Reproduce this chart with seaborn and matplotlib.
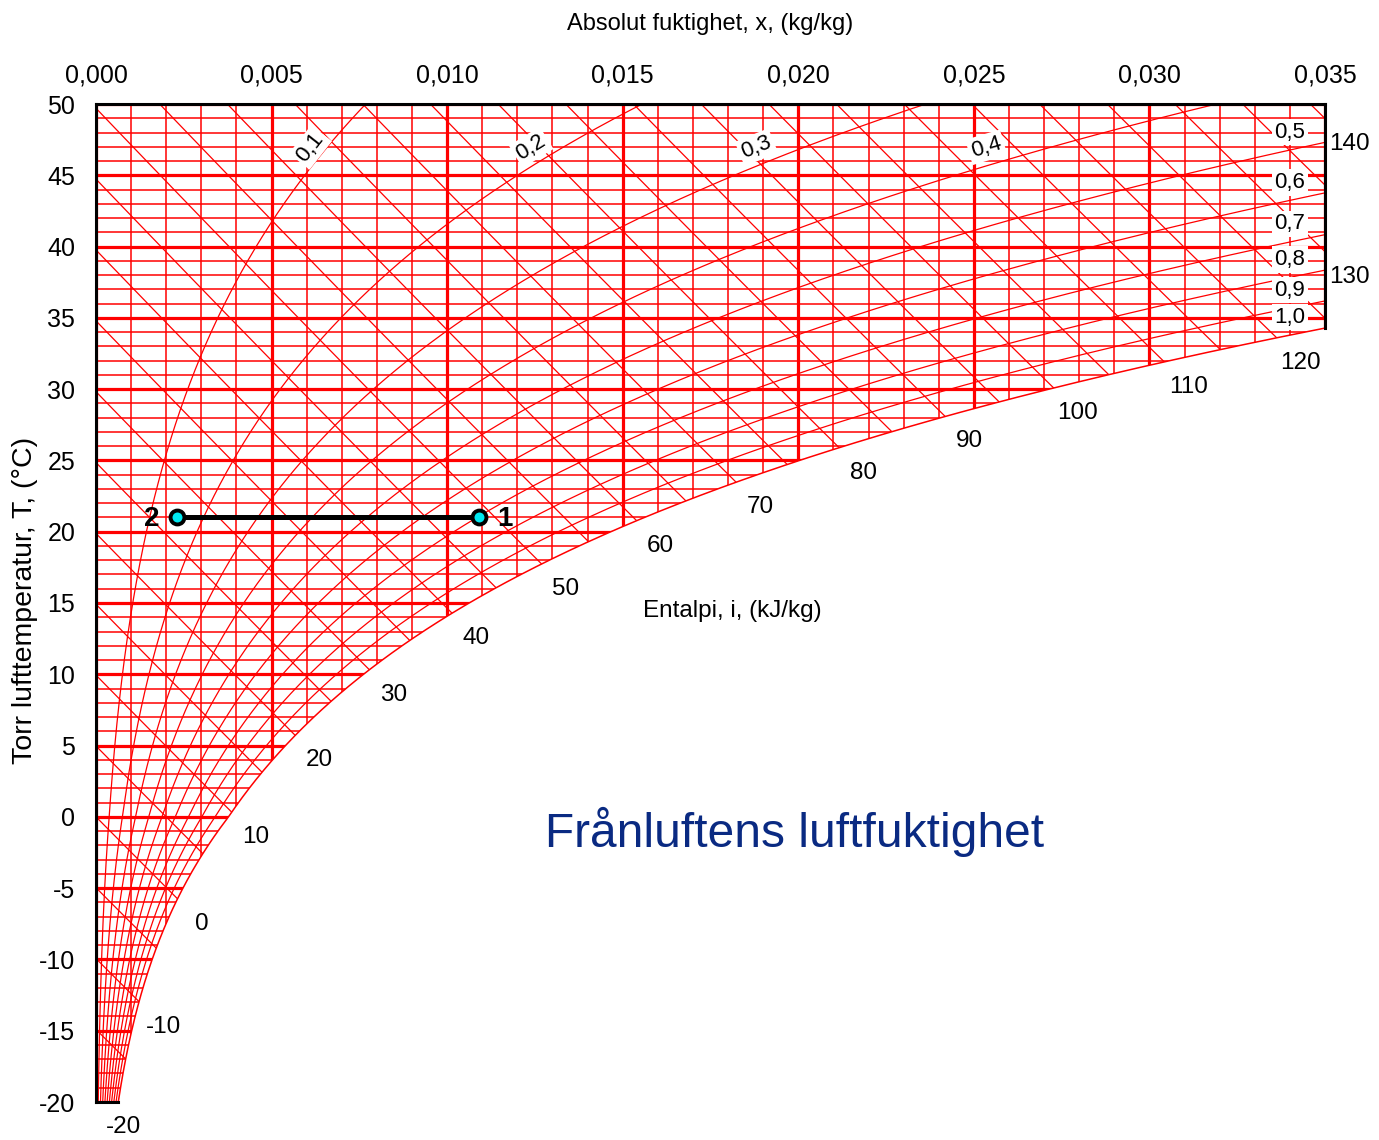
import numpy as np
import pandas as pd
import matplotlib
matplotlib.use("Agg")
import matplotlib.pyplot as plt
import seaborn as sns
from matplotlib.patches import Polygon

# ---- chart data ----
x_ticks = [0.000, 0.005, 0.010, 0.015, 0.020, 0.025, 0.030, 0.035]
t_ticks = [-20, -15, -10, -5, 0, 5, 10, 15, 20, 25, 30, 35, 40, 45, 50]
rh_levels = [0.1, 0.2, 0.3, 0.4, 0.5, 0.6, 0.7, 0.8, 0.9, 1.0]
rh_top_labels = [0.1, 0.2, 0.3, 0.4]
rh_side_labels = [0.5, 0.6, 0.7, 0.8, 0.9, 1.0]
enthalpy_lines = list(range(-20, 146, 5))
enthalpy_labels = list(range(-20, 141, 10))
point_names = ["1", "2"]
point_x = [0.0109, 0.0023]
point_t = [21.0, 21.0]

P_TOT = 101.325          # kPa
X_MAX = 0.035
T_MIN, T_MAX = -20, 50


def p_sat(t):
    t = np.asarray(t, float)
    water = 0.61094 * np.exp(17.625 * t / (t + 243.04))
    ice = 0.61115 * np.exp(22.452 * t / (272.55 + t))
    return np.where(t >= 0, water, ice)


def x_moist(t, phi):
    pv = phi * p_sat(t)
    return 0.622 * pv / (P_TOT - pv)


def t_of_enthalpy(i, x):
    return (i - 2501.0 * x) / (1.006 + 1.86 * x)


def enthalpy(t, x):
    return 1.006 * t + x * (2501.0 + 1.86 * t)


sns.set_theme(style="white")
FONT = ["Liberation Sans", "DejaVu Sans"]
plt.rcParams["font.family"] = FONT
plt.rcParams["text.color"] = "black"
plt.rcParams["xtick.color"] = "black"
plt.rcParams["ytick.color"] = "black"

W, H = 1379, 1140
fig = plt.figure(figsize=(W / 100, H / 100), dpi=100)
fig.patch.set_facecolor("white")
ax = fig.add_axes([96 / W, 1 - 1102 / H, (1325 - 96) / W, (1102 - 104) / H])
ax.set_xlim(0, X_MAX)
ax.set_ylim(T_MIN, T_MAX)
ax.set_facecolor("white")

# saturation curve and the chart region bounded by it
t_fine = np.linspace(-22, 50, 3000)
x_sat = x_moist(t_fine, 1.0)
t_edge = float(np.interp(X_MAX, x_sat, t_fine))
x_bottom = float(x_moist(T_MIN, 1.0))
sel = (t_fine > T_MIN) & (t_fine < t_edge)
curve = np.column_stack([x_sat[sel], t_fine[sel]])
curve = np.vstack([[x_bottom, T_MIN], curve, [X_MAX, t_edge]])
verts = np.vstack([[[0, T_MIN], [0, T_MAX], [X_MAX, T_MAX]], curve[::-1]])
clip = Polygon(verts, closed=True, transform=ax.transData, fc="none", ec="none")
ax.add_patch(clip)

RED = "#ff0000"

# temperature / moisture grid
thin_t = [t for t in range(T_MIN, T_MAX + 1) if t % 5]
thin_x = [k / 1000 for k in range(0, 36) if k % 5]
for vals, lw in ((thin_t, 1.1), (t_ticks, 2.3)):
    c = ax.hlines(vals, 0, X_MAX, colors=RED, lw=lw, zorder=1)
    c.set_clip_path(clip)
for vals, lw in ((thin_x, 1.1), (x_ticks, 2.3)):
    c = ax.vlines(vals, T_MIN, T_MAX, colors=RED, lw=lw, zorder=1)
    c.set_clip_path(clip)

# relative humidity curves
t_curve = np.linspace(T_MIN - 1, T_MAX + 1, 800)
rh_df = pd.concat([
    pd.DataFrame({"x": x_moist(t_curve, phi), "T": t_curve, "phi": phi})
    for phi in rh_levels[:-1]
])
n0 = len(ax.lines)
sns.lineplot(data=rh_df, x="x", y="T", units="phi", estimator=None, sort=False,
             color=RED, lw=0.9, legend=False, ax=ax, zorder=2)
for ln in ax.lines[n0:]:
    ln.set_clip_path(clip)

# enthalpy lines
x_line = np.linspace(0, X_MAX, 60)
ent_df = pd.concat([
    pd.DataFrame({"x": x_line, "T": t_of_enthalpy(i, x_line), "i": i})
    for i in enthalpy_lines
])
n0 = len(ax.lines)
sns.lineplot(data=ent_df, x="x", y="T", units="i", estimator=None, sort=False,
             color=RED, lw=0.9, legend=False, ax=ax, zorder=2)
for ln in ax.lines[n0:]:
    ln.set_clip_path(clip)

# saturation line (RH = 1.0)
sat_df = pd.DataFrame({"x": curve[:, 0], "T": curve[:, 1]})
sns.lineplot(data=sat_df, x="x", y="T", sort=False, estimator=None,
             color=RED, lw=1.1, ax=ax, zorder=2)

# frame: full left/top, partial right/bottom
for s in ("right", "bottom"):
    ax.spines[s].set_visible(False)
for s in ("left", "top"):
    ax.spines[s].set_color("black")
    ax.spines[s].set_linewidth(2.2)
    ax.spines[s].set_zorder(6)
ax.plot([X_MAX, X_MAX], [t_edge, T_MAX], color="black", lw=2.2,
        clip_on=False, zorder=6, solid_capstyle="projecting")
ax.plot([0, x_bottom], [T_MIN, T_MIN], color="black", lw=2.2,
        clip_on=False, zorder=6, solid_capstyle="projecting")

# ticks
ax.xaxis.tick_top()
ax.set_xticks(x_ticks)
ax.set_xticklabels([f"{v:.3f}".replace(".", ",") for v in x_ticks], fontsize=18)
ax.set_yticks(t_ticks)
ax.set_yticklabels([str(t) for t in t_ticks], fontsize=18)
ax.tick_params(axis="x", length=0, pad=12, colors="black")
ax.tick_params(axis="y", length=0, pad=15, colors="black")
ax.set_xlabel("")
ax.set_ylabel("")
ax.grid(False)

fig.text(710 / W, 1 - 24 / H, "Absolut fuktighet, x, (kg/kg)",
         fontsize=17, ha="center", va="center", color="black")
fig.text(25 / W, 1 - 600 / H, "Torr lufttemperatur, T, (°C)", rotation=90,
         fontsize=20.5, ha="center", va="center", color="black")

# enthalpy labels along the boundary
h_sat = enthalpy(t_fine, x_sat)
for i in enthalpy_labels:
    t_r = float(t_of_enthalpy(i, X_MAX))
    offset = (24, -25)
    if t_edge <= t_r <= T_MAX:
        anchor = (X_MAX, t_r)
    else:
        ts = float(np.interp(i, h_sat, t_fine))
        if ts < T_MIN:
            anchor, offset = (x_bottom, T_MIN), (5, -25)
        else:
            anchor = (float(x_moist(ts, 1.0)), ts)
    ax.annotate(str(i), xy=anchor, xytext=offset, textcoords="offset pixels",
                ha="center", va="center", fontsize=17.5, color="black",
                annotation_clip=False, zorder=7)

ax.text(0.01558, 14.44, "Entalpi, i, (kJ/kg)", ha="left", va="center",
        fontsize=17.5, color="black")

# relative humidity labels
box = dict(boxstyle="square,pad=0.12", fc="white", ec="none")
for phi in rh_top_labels:
    t0 = 45.7
    p1 = ax.transData.transform((float(x_moist(t0 - 0.5, phi)), t0 - 0.5))
    p2 = ax.transData.transform((float(x_moist(t0 + 0.5, phi)), t0 + 0.5))
    ang = np.degrees(np.arctan2(p2[1] - p1[1], p2[0] - p1[0]))
    ax.annotate(f"{phi:.1f}".replace(".", ","), xy=(float(x_moist(t0, phi)), t0),
                xytext=(-2, 18), textcoords="offset pixels", rotation=ang,
                rotation_mode="anchor", ha="center", va="center", fontsize=16,
                color="black", bbox=box, zorder=7)
for phi in rh_side_labels:
    xs = 0.0340
    ts = float(np.interp(xs, x_moist(t_fine, phi), t_fine))
    ax.annotate(f"{phi:.1f}".replace(".", ","), xy=(xs, ts), xytext=(0, 18),
                textcoords="offset pixels", ha="center", va="center",
                fontsize=16, color="black", bbox=box, zorder=7)

# process line between the two states
sns.lineplot(x=point_x, y=point_t, sort=False, color="black", lw=3.6, ax=ax,
             zorder=8)
ax.plot(point_x, point_t, "o", ms=10, mfc="#00e8f0", mec="black", mew=2.8,
        zorder=9)
for name, px, pt, dx in zip(point_names, point_x, point_t, (26, -25)):
    ax.annotate(name, xy=(px, pt), xytext=(dx, -2), textcoords="offset pixels",
                ha="center", va="center", fontsize=20, fontweight="bold",
                color="black", zorder=9)

ax.text(0.01988, -1.06, "Frånluftens luftfuktighet", ha="center", va="center",
        fontsize=34.5, color="#0a2a82", zorder=9)

fig.savefig("out.png", dpi=100, facecolor="white")
